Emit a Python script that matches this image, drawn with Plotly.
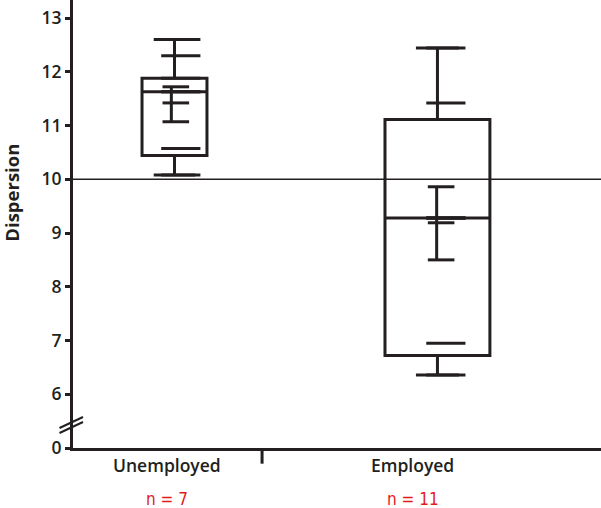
import plotly.graph_objects as go

# ---------------- data ----------------
groups = ["Unemployed", "Employed"]
n_labels = ["n = 7", "n = 11"]
positions = [0, 1]

q1 = [10.44, 6.72]
median = [11.63, 9.28]
q3 = [11.88, 11.11]
lower_fence = [10.08, 6.36]
upper_fence = [12.60, 12.44]

points_unemployed = [12.60, 12.30, 11.88, 11.63, 11.63, 10.57, 10.08]
points_employed = [12.44, 11.42, 11.11, 11.11, 9.28, 9.28, 9.28, 6.95, 6.72, 6.72, 6.36]

means = [11.42, 9.19]
ci_low = [11.07, 8.50]
ci_high = [11.72, 9.86]

reference_value = 10
y_tick_values = [0, 6, 7, 8, 9, 10, 11, 12, 13]

# ---------------- styling / layout helpers ----------------
INK = "#231f20"
RED = "#e3191c"
BREAK_ZERO = 5          # plotted position of the "0" tick (broken axis)
box_widths = [0.247, 0.399]
whisker_widths = [0.64, 0.41]
dash_offset = [0.024, 0.032]
err_vert_offset = [-0.012, -0.003]
err_cap_offset = [0.005, 0.014]
label_x = [-0.0285, 0.907]
divider_x = 0.333


def ymap(v):
    return v if v >= 6 else BREAK_ZERO + v


fig = go.Figure()

for i, g in enumerate(groups):
    fig.add_trace(go.Box(
        x=[positions[i]], q1=[q1[i]], median=[median[i]], q3=[q3[i]],
        lowerfence=[lower_fence[i]], upperfence=[upper_fence[i]],
        width=box_widths[i], whiskerwidth=whisker_widths[i],
        line=dict(color=INK, width=3), fillcolor="rgba(0,0,0,0)",
        boxpoints=False, showlegend=False, hoverinfo="skip", name=g,
    ))

all_points = [points_unemployed, points_employed]
for i, pts in enumerate(all_points):
    fig.add_trace(go.Scatter(
        x=[positions[i] + dash_offset[i]] * len(pts), y=pts, mode="markers",
        marker=dict(symbol="line-ew", size=28, line=dict(color=INK, width=3)),
        showlegend=False, hoverinfo="skip",
    ))
    xv = positions[i] + err_vert_offset[i]
    fig.add_trace(go.Scatter(
        x=[xv, xv], y=[ci_low[i], ci_high[i]], mode="lines",
        line=dict(color=INK, width=3), showlegend=False, hoverinfo="skip",
    ))
    xc = positions[i] + err_cap_offset[i]
    fig.add_trace(go.Scatter(
        x=[xc] * 3, y=[ci_low[i], means[i], ci_high[i]], mode="markers",
        marker=dict(symbol="line-ew", size=19, line=dict(color=INK, width=3)),
        showlegend=False, hoverinfo="skip",
    ))

# reference line
fig.add_shape(type="line", xref="paper", x0=0, x1=1, yref="y",
              y0=reference_value, y1=reference_value,
              line=dict(color=INK, width=1.3), layer="below")

# divider tick on x axis
fig.add_shape(type="line", xref="x", x0=divider_x, x1=divider_x,
              yref="paper", y0=0, y1=-0.035, line=dict(color=INK, width=3))

# axis break marks
for dy in (0, -5):
    fig.add_shape(type="line", xref="paper", xsizemode="pixel", xanchor=0,
                  x0=-13.5, x1=10, yref="y", ysizemode="pixel",
                  yanchor=BREAK_ZERO, y0=20 + dy, y1=31 + dy,
                  line=dict(color=INK, width=2))

font_main = dict(family="Open Sans", size=17.5, color=INK, weight=600)

for i, g in enumerate(groups):
    fig.add_annotation(x=label_x[i], xref="x", y=0, yref="paper",
                       yanchor="top", yshift=-3, text=g, showarrow=False,
                       font=font_main)
    fig.add_annotation(x=label_x[i], xref="x", y=0, yref="paper",
                       yanchor="middle", yshift=-51, text=n_labels[i],
                       showarrow=False,
                       font=dict(family="Liberation Sans Narrow, DejaVu Sans Condensed",
                                 size=17, color=RED))

fig.add_annotation(x=0, xref="paper", xanchor="center", xshift=-61, y=9.75,
                   yref="y", text="Dispersion", textangle=-90, showarrow=False,
                   font=dict(family="Open Sans", size=18.5, color=INK, weight=700))

fig.update_layout(
    width=601, height=508,
    margin=dict(l=73, r=0, t=0, b=60, autoexpand=False),
    paper_bgcolor="white", plot_bgcolor="white",
    boxmode="overlay",
    xaxis=dict(range=[-0.386, 1.622], showgrid=False, zeroline=False,
               showticklabels=False, ticks="", showline=True,
               linecolor=INK, linewidth=3, fixedrange=True),
    yaxis=dict(range=[BREAK_ZERO, BREAK_ZERO + 448 / 53.75], showgrid=False,
               zeroline=False, showline=True, linecolor=INK, linewidth=3,
               tickvals=[ymap(v) for v in y_tick_values],
               ticktext=[str(v) for v in y_tick_values],
               ticks="outside", ticklen=5, tickwidth=2.5, tickcolor=INK,
               tickfont=font_main, fixedrange=True, automargin=False),
)

fig.write_html(
    "out.html",
    config={"displayModeBar": False},
    post_script="document.body.style.margin='0';document.body.style.overflow='hidden';",
)
